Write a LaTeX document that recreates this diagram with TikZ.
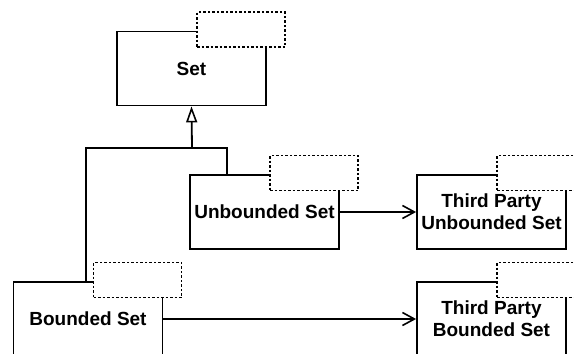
\documentclass[tikz,border=0pt]{standalone}
\usepackage{fontspec}
\setmainfont{Liberation Sans}
\usetikzlibrary{arrows.meta}
\begin{document}
\begin{tikzpicture}[x=1pt, y=-1pt,
  classbox/.style={draw, line width=1.8pt, fill=white, minimum width=149pt,
    minimum height=74pt, inner sep=0pt, align=center,
    font=\bfseries\fontsize{19}{22}\selectfont},
  tparam/.style={draw, line width=1.8pt, dash pattern=on 2.5pt off 2pt,
    fill=white, minimum width=88pt, minimum height=35pt, inner sep=0pt},
  link/.style={line width=1.8pt},
  inherit/.style={link, -{Triangle[open, length=16pt, width=11pt, line width=1.6pt]}},
  assoc/.style={link, -{Straight Barb[length=12pt, width=13pt, line width=1.6pt]}}]
  \useasboundingbox (0,0) rectangle (574,354);
  \clip (0,0) rectangle (574,354);

  % classes
  \node[classbox] (set) at (191.5,68.5) {Set};
  \node[classbox] (unb) at (264.5,212) {Unbounded Set};
  \node[classbox] (tpu) at (491.5,212) {Third Party\\Unbounded Set};
  \node[classbox] (bnd) at (88,319) {Bounded Set};
  \node[classbox] (tpb) at (491.5,319) {Third Party\\Bounded Set};

  % template parameter boxes on the top right corners
  \foreach \c in {set,unb,tpu,bnd,tpb}
    \node[tparam, anchor=north west] (\c T) at ([xshift=80pt, yshift=19.5pt]\c.north west) {};

  % generalization
  \coordinate (join) at (192,148);
  \draw[inherit] (join) -- (set.south);
  \draw[link] ([xshift=-2pt]bnd.north) |- (join) -| ([xshift=-37.5pt]unb.north);

  % associations
  \draw[assoc] (unb.east) -- (tpu.west);
  \draw[assoc] (bnd.east) -- (tpb.west);
\end{tikzpicture}
\end{document}
